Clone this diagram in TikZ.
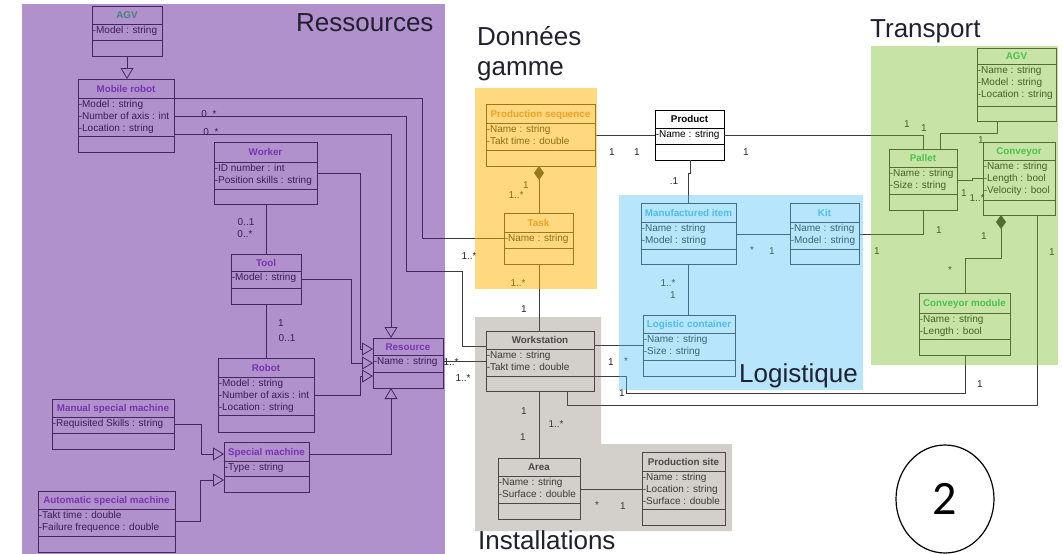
\documentclass[tikz,border=0pt]{standalone}
\usepackage{fontspec}
\setmainfont{Liberation Sans}
\newfontfamily\calib{Carlito}
\usetikzlibrary{arrows.meta,shapes.geometric}
\pgfdeclarelayer{ov}
\pgfdeclarelayer{top}
\pgfsetlayers{main,ov,top}
\definecolor{purpleOv}{RGB}{82,13,142}
\definecolor{orangeOv}{RGB}{255,179,1}
\definecolor{blueOv}{RGB}{77,192,247}
\definecolor{grayOv}{RGB}{112,98,85}
\definecolor{greenOv}{RGB}{115,187,33}
\definecolor{lineC}{RGB}{60,60,60}
\definecolor{textC}{RGB}{40,40,40}
\definecolor{tPurple}{RGB}{122,52,178}
\definecolor{tTeal}{RGB}{72,128,128}
\definecolor{tOrange}{RGB}{243,160,35}
\definecolor{tBlue}{RGB}{75,190,240}
\definecolor{tGreen}{RGB}{75,195,75}
\definecolor{tGray}{RGB}{75,72,70}
\definecolor{headC}{RGB}{32,32,48}
\newcommand\uclass[9]{%
  \node[ubox, anchor=north west, minimum width={(#4-#2)*1pt}, minimum height={(#5-#3)*1pt}] (#1) at (#2,#3) {};
  \draw[uline] (#2,#6) -- (#4,#6) (#2,#7) -- (#4,#7);
  \begin{pgfonlayer}{top}\node[utitle, anchor=base] (#1-t) at ({(#2+#4)/2},{(#3+#6)/2+3.5}) {#8};\end{pgfonlayer}
  \foreach \a [count=\i] in {#9} {\node[uattr, anchor=base west] (#1-a\i) at ({#2+0.6},{#6+9.8+12*(\i-1)}) {\a};}
}
\newcommand\mlab[4]{\node[mlabel, anchor=base] (#1) at ({#2},{#3+3.6}) {#4};}
\newcommand\slab[3]{\node[mlabel, anchor=base] (#1) at ({#2},{#3+5.8}) {*};}
\begin{document}
\begin{tikzpicture}[x=1pt, y=-1pt,
  conn/.style={draw=lineC, line width=0.8pt},
  gen/.style={conn, -{Triangle[open, length=11pt, width=13pt]}},
  comp/.style={conn, {Diamond[length=14pt, width=10pt, fill=lineC]}-},
  ubox/.style={draw=lineC, line width=0.8pt, inner sep=0pt, outer sep=0pt},
  uline/.style={draw=lineC, line width=0.8pt},
  utitle/.style={font=\fontsize{9.8}{11}\selectfont\bfseries, text=tPurple, inner sep=0pt},
  uattr/.style={font=\fontsize{10}{12}\selectfont, text=textC, inner sep=0pt},
  mlabel/.style={font=\fontsize{10}{12}\selectfont, text=textC, inner sep=0pt},
  head/.style={font=\fontsize{26}{30}\selectfont, text=headC, inner sep=0pt, anchor=base west}]
\fill[white] (0,0) rectangle (1063,554);
\useasboundingbox (0,0) rectangle (1063,554);

% ---------- Ressources ----------
\begin{scope}[utitle/.append style={text=tTeal}]
\uclass{agvL}{92}{6}{162}{56}{24}{40}{AGV}{-Model : string}
\end{scope}
\uclass{mrobot}{78}{79}{174}{152}{98}{136}{Mobile robot}{-Model : string,-Number of axis : int,-Location : string}
\uclass{worker}{214}{142}{317}{204}{162}{189}{Worker}{-ID number : int,-Position skills : string}
\uclass{tool}{231}{254}{301}{304}{271}{288}{Tool}{-Model : string}
\uclass{robot}{218}{358}{314}{432}{377}{415}{Robot}{-Model : string,-Number of axis : int,-Location : string}
\uclass{resource}{373}{338}{443}{388}{355}{372}{Resource}{-Name : string}
\uclass{spm}{224}{442}{309}{492}{461}{476}{Special machine}{-Type : string}
\uclass{manual}{52}{399}{174}{449}{417}{433}{Manual special machine}{-Requisited Skills : string}
\uclass{auto}{38}{491}{175}{552}{509}{536}{Automatic special machine}{-Takt time : double,-Failure frequence : double}

% ---------- Données gamme ----------
\begin{scope}[utitle/.append style={text=tOrange}]
\uclass{prodseq}{486}{104}{595}{166}{123}{150}{Production sequence}{-Name : string,-Takt time : double}
\uclass{task}{504}{213}{573}{264}{232}{248}{Task}{-Name : string}
\end{scope}
\begin{scope}[utitle/.append style={text=black}, ubox/.append style={fill=white, draw=black}, uline/.append style={draw=black}, uattr/.append style={text=black}]
\uclass{product}{655}{110}{724}{160}{128}{144}{Product}{-Name : string}
\end{scope}

% ---------- Logistique ----------
\begin{scope}[utitle/.append style={text=tBlue}]
\uclass{mitem}{641}{203}{736}{264}{222}{249}{Manufactured item}{-Name : string,-Model : string}
\uclass{kit}{790}{203}{859}{264}{222}{249}{Kit}{-Name : string,-Model : string}
\uclass{lcont}{643}{315}{735}{376}{333}{360}{Logistic container}{-Name : string,-Size : string}
\end{scope}

% ---------- Installations ----------
\begin{scope}[utitle/.append style={text=tGray}]
\uclass{workst}{486}{331}{594}{391}{349}{376}{Workstation}{-Name : string,-Takt time : double}
\uclass{area}{498}{458}{580}{519}{476}{503}{Area}{-Name : string,-Surface : double}
\uclass{psite}{642}{452}{725}{525}{471}{509}{Production site}{-Name : string,-Location : string,-Surface : double}
\end{scope}

% ---------- Transport ----------
\begin{scope}[utitle/.append style={text=tGreen}]
\uclass{agvR}{977}{48}{1056}{121}{64}{106}{AGV}{-Name : string,-Model : string,-Location : string}
\uclass{pallet}{889}{149}{957}{210}{167}{194}{Pallet}{-Name : string,-Size : string}
\uclass{conveyor}{983}{142}{1055}{215}{160}{200}{Conveyor}{-Name : string,-Length : bool,-Velocity : bool}
\uclass{cmodule}{919}{293}{1010}{355}{313}{339}{Conveyor module}{-Name : string,-Length : bool}
\end{scope}

% ---------- connectors ----------
\draw[gen] (agvL.south) -- (agvL.south |- mrobot.north);
\draw[conn] (mrobot.east |- 0,98) -| (422,238) -- (task.west |- 0,238);
\draw[conn] (mrobot.east |- 0,116) -| (406,271) -| (462,346) -- (workst.west |- 0,346);
\draw[gen] (mrobot.east |- 0,134) -| (resource.north -| 391,0);
\draw[gen] (worker.east |- 0,173) -| (360,349) -- (resource.west |- 0,349);
\draw[gen] (tool.east |- 0,279) -| (351,363) -- (resource.west |- 0,363);
\draw[gen] (robot.east |- 0,395) -| (360,376) -- (resource.west |- 0,376);
\draw[conn] (worker.south -| 266,0) -- (tool.north -| 266,0);
\draw[conn] (tool.south -| 266,0) -- (robot.north -| 266,0);
\draw[gen] (spm.east |- 0,454) -| (resource.south -| 391,0);
\draw[gen] (manual.east |- 0,424) -| (201,454) -- (spm.west |- 0,454);
\draw[gen] (auto.east |- 0,521) -| (200,480) -- (spm.west |- 0,480);
\draw[conn] (resource.east |- 0,361) -- (workst.west |- 0,361);

\draw[comp] (prodseq.south -| 539,0) -- (task.north -| 539,0);
\draw[conn] (task.south -| 539,0) -- (workst.north -| 539,0);
\draw[conn] (prodseq.east |- 0,135) -- (product.west |- 0,135);
\draw[conn] (product.east |- 0,135) -| (pallet.north -| 923,0);
\draw[conn] (product.south -| 690,0) -- (690,173) -- (688,173) -- (mitem.north -| 688,0);
\draw[conn] (mitem.east |- 0,234) -- (kit.west |- 0,234);
\draw[conn] (kit.east |- 0,234) -| (pallet.south -| 923,0);
\draw[conn] (mitem.south -| 688,0) -- (lcont.north -| 688,0);
\draw[conn] (workst.east |- 0,345) -- (lcont.west |- 0,345);
\draw[conn] (workst.east |- 0,376) -| (626,393) -| (cmodule.south -| 965,0);
\draw[conn] (workst.south -| 567,0) |- (1037,405) -- (conveyor.south -| 1037,0);
\draw[conn] (workst.south -| 539,0) -- (area.north -| 539,0);
\draw[conn] (area.east |- 0,489) -- (psite.west |- 0,489);
\draw[conn] (agvR.south -| 997,0) |- (940,133) -- (pallet.north -| 940,0);
\draw[conn] (pallet.east |- 0,180) -- (972,180) -- (972,178) -- (conveyor.west |- 0,178);
\draw[comp] (conveyor.south -| 1001,0) -- (1001,258) -| (cmodule.north -| 965,0);

% ---------- multiplicities ----------
\mlab{m1}{209}{114}{0..*}
\mlab{m2}{211}{132}{0..*}
\mlab{m3}{246}{222}{0..1}
\mlab{m4}{245}{234}{0..*}
\mlab{m5}{281}{323}{1}
\mlab{m6}{287}{338}{0..1}
\mlab{m7}{451}{362}{1..*}
\mlab{m8}{463}{378}{1..*}
\mlab{m9}{469}{256}{1..*}
\mlab{m10}{526}{185}{1}
\mlab{m11}{516}{195}{1..*}
\mlab{m12}{518}{283}{1..*}
\mlab{m13}{524}{309}{1}
\mlab{m14}{524}{411}{1}
\mlab{m15}{556}{424}{1..*}
\mlab{m16}{523}{437}{1}
\slab{m17}{597}{503}
\mlab{m18}{623}{506}{1}
\mlab{m19}{611}{362}{1}
\slab{m20}{626}{359}
\mlab{m21}{622}{393}{1}
\mlab{m22}{980}{384}{1}
\mlab{m23}{1052}{252}{1}
\mlab{m24}{612}{152}{1}
\mlab{m25}{637}{152}{1}
\mlab{m26}{746}{152}{1}
\mlab{m27}{674}{181}{.1}
\slab{m28}{752}{248}
\mlab{m29}{772}{251}{1}
\mlab{m30}{668}{283}{1..*}
\mlab{m31}{673}{295}{1}
\mlab{m32}{907}{124}{1}
\mlab{m33}{924}{128}{1}
\mlab{m34}{981}{140}{1}
\mlab{m35}{964}{193}{1}
\mlab{m36}{977}{198}{1..*}
\mlab{m37}{877}{251}{1}
\mlab{m38}{939}{230}{1}
\mlab{m39}{984}{236}{1}
\slab{m40}{950}{268}

% ---------- region overlays ----------
\begin{pgfonlayer}{ov}
\fill[purpleOv, fill opacity=0.45] (22,4) rectangle (445,554);
\fill[orangeOv, fill opacity=0.5] (475,88) rectangle (597,289);
\fill[blueOv, fill opacity=0.4] (619,195) rectangle (863,390);
\fill[grayOv, fill opacity=0.3] (475,317) -- (601,317) -- (601,444) -- (732,444) -- (732,531) -- (475,531) -- cycle;
\fill[greenOv, fill opacity=0.4] (871,46) rectangle (1058,365);
\end{pgfonlayer}

% ---------- headings ----------
\begin{pgfonlayer}{top}
\node[head] (hRes) at (296,31) {Ressources};
\node[head] (hDon) at (477,45) {Données};
\node[head] (hGam) at (477,75) {gamme};
\node[head] (hTra) at (870,37) {Transport};
\node[head] (hLog) at (739,382) {Logistique};
\node[head] (hIns) at (478,549) {Installations};
\end{pgfonlayer}
\node[draw=black, ellipse, line width=1.2pt, minimum width=98pt, minimum height=108pt, inner sep=0pt, font=\calib\fontsize{48}{48}\selectfont] (c2) at (945,499) {2};
\end{tikzpicture}
\end{document}
